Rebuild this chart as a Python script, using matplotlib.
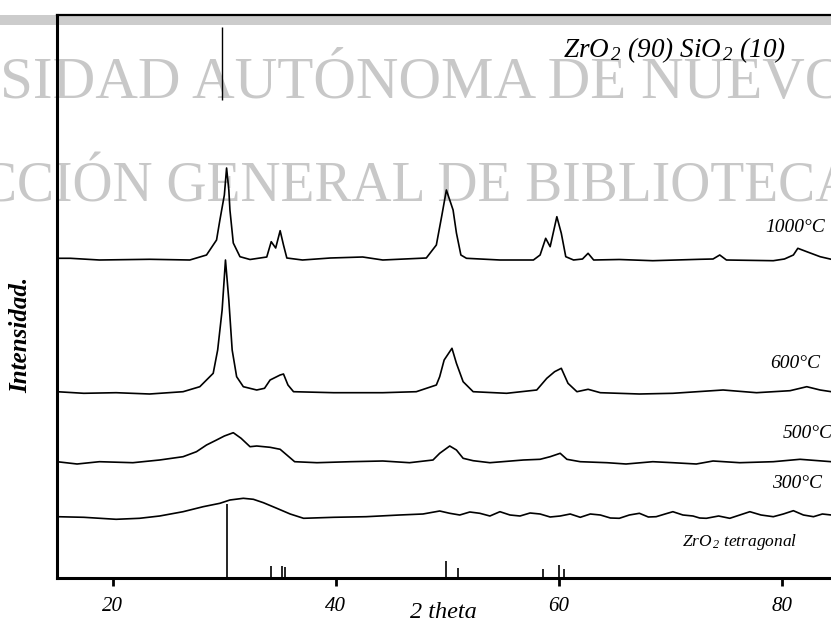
import matplotlib
matplotlib.use("Agg")
import matplotlib.pyplot as plt
from matplotlib.patches import Rectangle

plt.rcParams["font.family"] = ["Liberation Serif", "DejaVu Serif"]
plt.rcParams["mathtext.fontset"] = "custom"
plt.rcParams["mathtext.rm"] = "Liberation Serif:italic"
plt.rcParams["mathtext.it"] = "Liberation Serif:italic"

# patterns: 2 theta (deg) and intensity (arb. units, stacked)
tt_1000 = [15.0, 16.2, 18.8, 23.3, 26.9, 28.4, 29.3, 29.6, 30.0, 30.2, 30.4, 30.5,
           30.8, 31.4, 32.3, 33.8, 34.2, 34.6, 35.0, 35.3, 35.6, 37.0, 39.5, 42.4,
           44.2, 48.1, 49.0, 49.5, 49.9, 50.5, 50.8, 51.2, 51.7, 54.7, 57.7, 58.3,
           58.8, 59.2, 59.8, 60.2, 60.6, 61.3, 62.1, 62.6, 63.1, 65.4, 68.4, 72.6,
           73.8, 74.4, 75.0, 79.2, 80.2, 81.0, 81.4, 82.2, 83.4, 84.4, 85.0]
i_1000 = [319.7, 319.7, 318, 318.7, 318, 323, 338, 358, 383, 410, 388, 368,
          335, 321.3, 318.5, 321, 336.3, 330, 347.3, 333, 320, 318, 320, 321,
          318, 320, 333, 363, 388, 368, 345, 323, 319.7, 318, 318, 323,
          339.7, 331.3, 361.3, 344.7, 321.3, 318, 319, 324.7, 318, 318.5, 317.3, 318.7,
          319, 323, 318, 317.3, 319, 323, 329.7, 326.3, 321.3, 318.7, 318.5]

tt_600 = [15.0, 17.4, 20.3, 23.3, 26.3, 27.8, 29.0, 29.4, 29.8, 30.1, 30.4, 30.7,
          31.1, 31.7, 32.9, 33.6, 34.1, 35.0, 35.3, 35.7, 36.2, 39.8, 44.2, 47.2,
          49.0, 49.3, 49.7, 50.4, 50.8, 51.4, 52.3, 55.3, 58.0, 58.9, 59.6, 60.2,
          60.8, 61.6, 62.6, 63.7, 67.2, 70.2, 74.7, 77.7, 80.7, 82.2, 83.4, 84.4, 85.0]
i_600 = [186.3, 184.7, 185.3, 184, 186.3, 191.3, 204.7, 228, 268, 318, 278, 228,
         201.3, 191.3, 188, 189.7, 198, 203, 204, 193, 186.3, 185.3, 185.3, 186.3,
         193, 201.3, 218, 229.7, 214.7, 196.3, 186.3, 184.7, 188, 199.7, 206.3, 209.7,
         194.7, 186.3, 188.7, 185.3, 184, 184.7, 188, 185.3, 187.3, 191.3, 188, 186.3, 186]

tt_500 = [15.0, 16.8, 18.8, 21.8, 24.2, 26.3, 27.5, 28.4, 29.3, 30.0, 30.8, 31.5,
          32.3, 32.9, 34.1, 35.0, 35.6, 36.3, 38.3, 41.3, 44.2, 46.6, 48.7, 49.3,
          50.2, 50.8, 51.4, 52.3, 53.8, 56.8, 58.3, 59.2, 60.1, 60.7, 61.9, 64.3,
          66.0, 68.4, 70.2, 72.3, 73.8, 76.2, 79.2, 81.6, 84.4, 85.0]
i_500 = [116.3, 114, 116.3, 115.3, 118, 121.3, 126.3, 133, 138, 142, 145.3, 139.7,
         131.3, 132, 130.7, 128.7, 123, 116.3, 115.3, 116.3, 117, 115.3, 118, 124.7,
         132, 128, 119.7, 117.3, 115.3, 118, 118.7, 121.3, 124.7, 118.7, 116.3, 115.3,
         114, 116.3, 115.3, 114, 117, 115.3, 116.3, 118.7, 116.3, 116]

tt_300 = [15.0, 17.4, 20.3, 22.4, 24.2, 26.3, 28.1, 29.6, 30.5, 31.7, 32.6, 33.5,
          34.7, 35.9, 37.1, 39.8, 42.7, 45.7, 47.8, 49.3, 50.2, 51.1, 52.0, 52.9,
          53.8, 54.7, 55.6, 56.5, 57.4, 58.3, 59.2, 60.1, 61.0, 61.9, 62.8, 63.7,
          64.6, 65.4, 66.3, 67.2, 68.0, 68.7, 69.5, 70.2, 71.1, 72.0, 72.6, 73.2,
          74.3, 75.3, 76.2, 77.1, 78.1, 79.2, 80.1, 81.0, 81.9, 82.8, 83.6, 84.4, 85.0]
i_300 = [61.3, 60.7, 58.7, 59.7, 62, 66.3, 71.3, 74.7, 78, 79.7, 78.7, 75.3,
         69.7, 64, 59.7, 60.7, 61.3, 63, 64, 67, 64.7, 63, 66, 64.7,
         62, 66.3, 63, 62, 65, 64, 61, 62, 64, 60.7, 64, 63,
         60, 59.7, 63, 64.7, 61, 61.3, 64, 66.3, 63, 62, 60, 59.7,
         62, 59.7, 63, 66.3, 63, 61.3, 64, 67.3, 63, 61.3, 64, 63, 62]

# lone vertical stroke above the 1000 C main reflection
spike_tt = 29.8
spike_lo, spike_hi = 478, 551

# ZrO2 tetragonal reference lines
ref_tt = [30.2, 34.2, 35.2, 35.4, 49.9, 50.9, 58.6, 60.0, 60.4]
ref_i = [74, 12, 12, 11, 17, 10, 9, 13, 9]

temps = ["1000°C", "600°C", "500°C", "300°C"]

W, H = 831, 624
fig = plt.figure(figsize=(W / 100, H / 100), dpi=100)
ax = fig.add_axes([57 / W, (H - 578) / H, (838 - 57) / W, (578 - 15) / H])
ax.set_xlim(15, 85)
ax.set_ylim(0, 563)

# scanned watermark and header band
ax.add_patch(Rectangle((0, 1 - 25 / H), 1, 10 / H, transform=fig.transFigure,
                       color="#cccccc", lw=0, clip_on=False, zorder=0.5))
wm = dict(transform=fig.transFigure, ha="center", va="baseline",
          color="#c8c8c8", clip_on=False, zorder=1)
ax.text(424 / W, 1 - 98 / H, "SIDAD AUTÓNOMA DE NUEVO", fontsize=42.5, **wm)
ax.text(418 / W, 1 - 202 / H, "CCIÓN GENERAL DE BIBLIOTECA", fontsize=40, **wm)

lk = dict(color="black", lw=1.2, zorder=2)
ax.plot(tt_1000, i_1000, **lk)
ax.plot(tt_600, i_600, **lk)
ax.plot(tt_500, i_500, **lk)
ax.plot(tt_300, i_300, **lk)
ax.vlines(spike_tt, spike_lo, spike_hi, color="black", lw=1.0)
ax.vlines(ref_tt, 0, ref_i, color="black", lw=1.2)

lab = dict(style="italic", fontsize=14, ha="left", va="center", clip_on=False)
ax.text(78.5, 351, temps[0], **lab)
ax.text(78.9, 215, temps[1], **lab)
ax.text(80.0, 145, temps[2], **lab)
ax.text(79.1, 95, temps[3], **lab)
ax.text(71.0, 36, r"ZrO$_{\,2}$ tetragonal", style="italic", fontsize=12.5,
        ha="left", va="center")

fig.text(675 / W, 1 - 50 / H, r"ZrO$_{\,2}$ (90) SiO$_{\,2}$ (10)", style="italic",
         fontsize=19.5, ha="center", va="center")

for side in ("left", "bottom"):
    ax.spines[side].set_linewidth(2.2)
ax.spines["top"].set_linewidth(1.6)
ax.spines["right"].set_linewidth(1.6)

ax.set_xticks([20, 40, 60, 80])
ax.set_yticks([])
ax.tick_params(axis="x", direction="out", length=6, width=2, pad=8, labelsize=15)
for t in ax.get_xticklabels():
    t.set_style("italic")

fig.text(443 / W, 1 - 613 / H, "2 theta", style="italic", fontsize=17.5,
         ha="center", va="center")
fig.text(21 / W, 1 - 335 / H, "Intensidad.", style="italic", weight="bold",
         fontsize=18, rotation=90, ha="center", va="center")

fig.savefig("out.png", dpi=100)
